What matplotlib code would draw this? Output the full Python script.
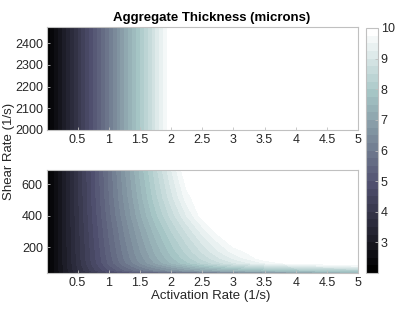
import numpy as np
import matplotlib
matplotlib.use('Agg')
import matplotlib.pyplot as plt

plt.rcParams['font.family'] = ['Liberation Sans', 'DejaVu Sans']
plt.rcParams['font.size'] = 9

# --------------------------------------------------------------------------------------------------------------------
# Data (aggregate thickness in microns):
# --------------------------------------------------------------------------------------------------------------------

act_rate = [0.01, 0.25, 0.5, 0.75, 1.0, 1.25, 1.5, 1.75, 2.0, 2.25, 2.5, 2.75, 3.0, 3.5, 4.0, 4.5, 5.0]

# high shear panel
shear_high = [2000, 2475]
thick_high = [
    [2.04, 3.0, 4.0, 5.0, 6.0, 7.0, 8.0, 9.0, 10.0, 10.0, 10.0, 10.0, 10.0, 10.0, 10.0, 10.0, 10.0],
    [2.04, 3.0, 4.0, 5.0, 6.0, 7.0, 8.0, 9.0, 10.0, 10.0, 10.0, 10.0, 10.0, 10.0, 10.0, 10.0, 10.0],
]

# low shear panel
shear_low = [35, 50, 65, 80, 100, 130, 170, 250, 320, 400, 520, 690]
thick_low = [
    [2.04, 2.90, 3.55, 4.00, 4.30, 4.50, 4.70, 4.85, 5.00, 5.15, 5.30, 5.50, 5.70, 6.10, 6.50, 6.90, 7.30],
    [2.04, 2.93, 3.71, 4.39, 4.96, 5.45, 5.87, 6.23, 6.53, 6.79, 7.01, 7.20, 7.36, 7.62, 7.80, 7.94, 8.04],
    [2.04, 2.94, 3.75, 4.45, 5.07, 5.60, 6.07, 6.48, 6.83, 7.14, 7.40, 7.64, 7.84, 8.17, 8.42, 8.61, 8.75],
    [2.04, 2.94, 3.78, 4.52, 5.17, 5.76, 6.27, 6.73, 7.13, 7.49, 7.81, 8.09, 8.35, 8.76, 9.09, 9.35, 9.55],
    [2.04, 2.95, 3.81, 4.59, 5.30, 5.93, 6.51, 7.03, 7.51, 7.93, 8.32, 8.67, 8.99, 9.53, 9.98, 10.0, 10.0],
    [2.04, 2.96, 3.83, 4.63, 5.35, 6.02, 6.62, 7.18, 7.68, 8.15, 8.57, 8.95, 9.30, 9.92, 10.0, 10.0, 10.0],
    [2.04, 2.96, 3.84, 4.65, 5.40, 6.09, 6.72, 7.30, 7.84, 8.33, 8.78, 9.20, 9.59, 10.0, 10.0, 10.0, 10.0],
    [2.04, 2.97, 3.86, 4.70, 5.48, 6.20, 6.87, 7.49, 8.07, 8.61, 9.12, 9.58, 10.0, 10.0, 10.0, 10.0, 10.0],
    [2.04, 2.97, 3.88, 4.74, 5.54, 6.29, 7.00, 7.67, 8.30, 8.88, 9.44, 9.96, 10.0, 10.0, 10.0, 10.0, 10.0],
    [2.04, 2.98, 3.90, 4.79, 5.63, 6.42, 7.18, 7.91, 8.59, 9.25, 9.87, 10.0, 10.0, 10.0, 10.0, 10.0, 10.0],
    [2.04, 2.98, 3.93, 4.84, 5.72, 6.56, 7.37, 8.16, 8.91, 9.65, 10.0, 10.0, 10.0, 10.0, 10.0, 10.0, 10.0],
    [2.04, 2.99, 3.95, 4.88, 5.79, 6.69, 7.55, 8.39, 9.22, 10.0, 10.0, 10.0, 10.0, 10.0, 10.0, 10.0, 10.0],
]

x_ticks = [0.5, 1, 1.5, 2, 2.5, 3, 3.5, 4, 4.5, 5]
x_labels = ['0.5', '1', '1.5', '2', '2.5', '3', '3.5', '4', '4.5', '5']
y_ticks_high = [2000, 2100, 2200, 2300, 2400]
y_ticks_low = [200, 400, 600]
cbar_ticks = [3, 4, 5, 6, 7, 8, 9, 10]

levels = np.arange(2, 10.001, 0.25)
edge = '#c0c0c0'

# --------------------------------------------------------------------------------------------------------------------
# Plot:
# --------------------------------------------------------------------------------------------------------------------

fig = plt.figure(figsize=(4.03, 3.11), dpi=100)
ax1 = fig.add_axes([0.1166, 0.582, 0.772, 0.331])
ax2 = fig.add_axes([0.1166, 0.122, 0.772, 0.331])
cax = fig.add_axes([0.908, 0.122, 0.0298, 0.788])

cs = None
for ax, sh, th, yt in [(ax1, shear_high, thick_high, y_ticks_high),
                       (ax2, shear_low, thick_low, y_ticks_low)]:
    cs = ax.contourf(act_rate, sh, np.array(th), levels=levels, cmap='bone',
                     vmin=2.125, vmax=9.875, antialiased=False)
    ax.set_xlim(0.01, 5)
    ax.set_ylim(sh[0], sh[-1])
    ax.set_xticks(x_ticks)
    ax.set_xticklabels(x_labels)
    ax.set_yticks(yt)
    ax.tick_params(direction='in', length=2, width=0.6, color=edge, pad=3,
                   labelcolor='#262626')
    for s in ax.spines.values():
        s.set_color(edge)
        s.set_linewidth(0.8)

cb = fig.colorbar(cs, cax=cax, ticks=cbar_ticks)
cb.outline.set_edgecolor(edge)
cb.outline.set_linewidth(0.8)
cax.tick_params(direction='in', length=2, width=0.6, color=edge, pad=2,
                labelcolor='#262626')

fig.text(0.526, 0.942, 'Aggregate Thickness (microns)', ha='center', va='center',
         fontweight='bold', fontsize=9.5)
fig.text(0.524, 0.048, 'Activation Rate (1/s)', ha='center', va='center', fontsize=9.5,
         color='#262626')
fig.text(0.022, 0.514, 'Shear Rate (1/s)', ha='center', va='center', rotation=90,
         fontsize=9.5, color='#262626')

fig.savefig('out.png', dpi=100)
